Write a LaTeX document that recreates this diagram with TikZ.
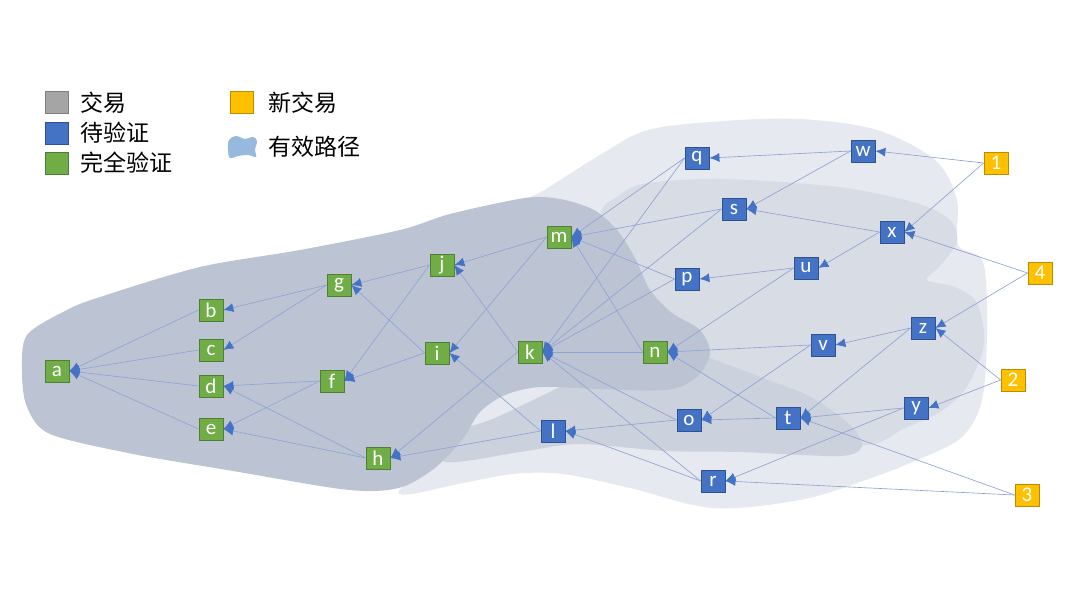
\documentclass[tikz,border=0pt]{standalone}
\usepackage{fontspec}
\setmainfont{Carlito}
\newfontfamily\cjk{Noto Sans CJK SC}
\usetikzlibrary{arrows.meta}
\definecolor{gfill}{HTML}{70AD47}
\definecolor{gline}{HTML}{507E32}
\definecolor{bfill}{HTML}{4472C4}
\definecolor{bline}{HTML}{2F528F}
\definecolor{ofill}{HTML}{FFC000}
\definecolor{oline}{HTML}{BC8C00}
\definecolor{xfill}{HTML}{A5A5A5}
\definecolor{xline}{HTML}{7F7F7F}
\definecolor{lcol}{HTML}{8FA2D4}
\definecolor{ablue}{HTML}{4472C4}
\definecolor{tone1}{HTML}{E6E9EF}
\definecolor{tone2}{HTML}{D8DCE5}
\definecolor{tone3}{HTML}{CBD1DD}
\definecolor{tone4}{HTML}{BCC4D4}
\definecolor{iconblue}{HTML}{97B9DE}
\begin{document}
\begin{tikzpicture}[x=1pt,y=-1pt,
  tx/.style={minimum width=24pt, minimum height=22pt, inner sep=0pt, line width=0.8pt, text=white, font=\fontsize{21}{21}\selectfont},
  gn/.style={tx, fill=gfill, draw=gline},
  bn/.style={tx, fill=bfill, draw=bline},
  on/.style={tx, fill=ofill, draw=oline},
  lnk/.style={draw=lcol, line width=0.65pt, -{Latex[length=10pt,width=9pt,color=ablue]}},
  legsq/.style={minimum width=23pt, minimum height=22pt, inner sep=0pt, line width=0.8pt},
  legtx/.style={anchor=west, inner sep=0pt, font=\cjk\fontsize{23}{23}\selectfont}
]
\useasboundingbox (0,0) rectangle (1080,593);

% ---- regions ----
\fill[tone1] plot[smooth cycle, tension=0.55] coordinates {
 (500,215) (541,192) (600,155) (648,130) (724,121) (801,119) (877,130) (935,160) (957,200)
 (958,245) (983,262) (987,330) (982,400) (962,437) (922,458) (866,480) (800,500) (713,508)
 (630,488) (563,474) (513,474) (463,483) (400,494) (420,460) (480,300)};
\fill[tone2] plot[smooth cycle, tension=0.5] coordinates {
 (600,225) (620,195) (648,183) (724,179) (839,187) (916,203) (950,220) (957,242) (940,266)
 (927,280) (955,287) (977,303) (984,345) (966,388) (940,412) (905,428) (862,445)
 (760,420) (680,400) (640,360)};
\fill[tone3] plot[smooth cycle, tension=0.5] coordinates {
 (490,420) (600,370) (690,355) (720,362) (776,383) (813,398) (850,425) (862,446) (840,456)
 (740,452) (665,451) (580,444) (520,452) (447,462) (420,440)};
\fill[tone4] plot[smooth cycle, tension=0.5] coordinates {
 (22,372) (27,335) (67,310) (100,297) (200,267) (300,250) (400,230) (450,214) (525,198)
 (560,199) (594,210) (617,230) (635,258) (650,290) (672,313) (700,330) (710,353) (697,377)
 (667,390) (600,389) (540,387) (505,395) (480,412) (462,440) (435,468) (405,486) (375,491)
 (333,488) (233,471) (133,454) (50,434) (27,407)};

% ---- legend ----
\node[legsq, fill=xfill, draw=xline] (lg1) at (57,102) {};
\node[legsq, fill=bfill, draw=bline] (lg2) at (57,133) {};
\node[legsq, fill=gfill, draw=gline] (lg3) at (57,163) {};
\node[legtx] (lt1) at (80,103) {交易};
\node[legtx] (lt2) at (80,133) {待验证};
\node[legtx] (lt3) at (80,163) {完全验证};
\node[legsq, fill=ofill, draw=oline] (lg4) at (242,102) {};
\node[legtx] (lt4) at (268,103) {新交易};
\fill[iconblue] plot[smooth cycle, tension=0.6] coordinates {
 (229,140) (236,136) (245,139) (253,137) (257,141) (255,150) (256,157) (248,155) (238,156) (230,158) (228,150)};
\coordinate (lg5) at (242,147);
\node[legtx] (lt5) at (268,147) {有效路径};

% ---- nodes ----
\node[gn] (a) at (57,371) {a};
\node[gn] (b) at (211,310) {b};
\node[gn] (c) at (211,350) {c};
\node[gn] (d) at (211,386) {d};
\node[gn] (e) at (211,429) {e};
\node[gn] (g) at (339,285) {g};
\node[gn] (f) at (332,381) {f};
\node[gn] (j) at (442,265) {j};
\node[gn] (i) at (437,353) {i};
\node[gn] (h) at (378,458) {h};
\node[gn] (m) at (559,237) {m};
\node[gn] (k) at (530,352) {k};
\node[gn] (n) at (655,352) {n};
\node[bn] (l) at (553,431) {l};
\node[bn] (q) at (697,158) {q};
\node[bn] (s) at (734,209) {s};
\node[bn] (p) at (687,279) {p};
\node[bn] (u) at (806,268) {u};
\node[bn] (w) at (863,151) {w};
\node[bn] (x) at (892,232) {x};
\node[bn] (v) at (823,345) {v};
\node[bn] (z) at (923,328) {z};
\node[bn] (o) at (689,420) {o};
\node[bn] (t) at (788,418) {t};
\node[bn] (y) at (916,408) {y};
\node[bn] (r) at (713,481) {r};
\node[on] (n1) at (996,163) {1};
\node[on] (n4) at (1040,273) {4};
\node[on] (n2) at (1013,380) {2};
\node[on] (n3) at (1027,495) {3};

% ---- connectors ----
\foreach \s/\t in {b/a,c/a,d/a,e/a, g/b,g/c, f/d,h/d,f/e,h/e, j/g,i/g, j/f,i/f,
  m/j,k/j, m/i,l/i, k/h,l/h, q/m,s/m,p/m,n/m, q/k,s/k,p/k,n/k,o/k,r/k,
  u/n,v/n,t/n, o/l,r/l, v/o,t/o, z/t,y/t,n3/t, y/r,n3/r, z/v, n4/z,n2/z, n2/y,
  x/s,w/s, x/u, u/p, w/q, n1/w, n1/x, n4/x}
  \draw[lnk] (\s.west) -- (\t.east);
\end{tikzpicture}
\end{document}
